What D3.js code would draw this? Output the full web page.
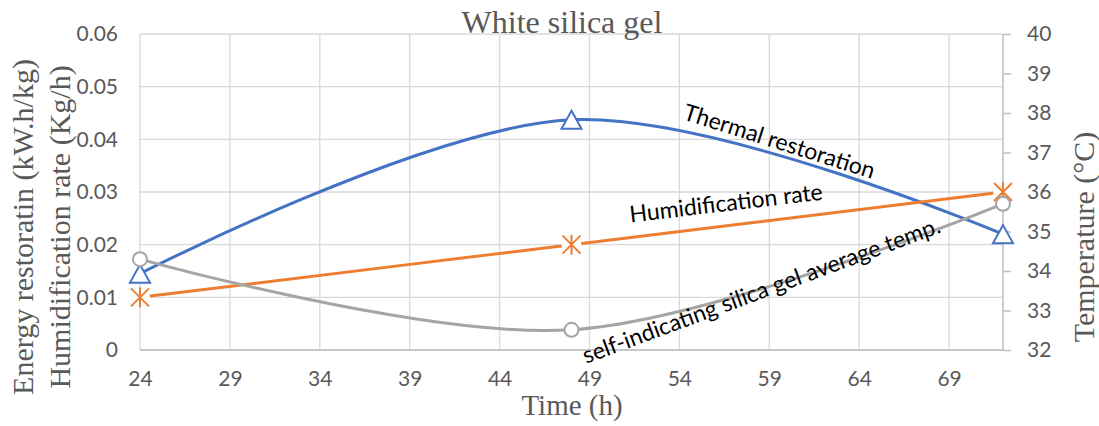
<!DOCTYPE html>
<html><head><meta charset="utf-8">
<script src="https://cdn.jsdelivr.net/npm/d3@7"></script>
<style>body{margin:0;background:#fff}svg{display:block}</style>
</head><body>
<svg id="c" width="1099" height="426"></svg>
<script>
const times = [24, 48, 72];
const thermal = [0.0145, 0.0437, 0.0220];
const humid = [0.010, 0.020, 0.030];
const temp = [34.30, 32.51, 35.70];
const xTicks = [24, 29, 34, 39, 44, 49, 54, 59, 64, 69];
const leftTicks = [0, 0.01, 0.02, 0.03, 0.04, 0.05, 0.06];
const rightTicks = [32, 33, 34, 35, 36, 37, 38, 39, 40];
const title = "White silica gel";
const xTitle = "Time (h)";
const yTitleLines = ["Energy restoratin (kW.h/kg)", "Humidification rate (Kg/h)"];
const y2Title = "Temperature (°C)";

const svg = d3.select("#c");
const L = 140, R = 1003, T = 34, B = 350;
const x = d3.scaleLinear().domain([24, 72]).range([L, R]);
const yL = d3.scaleLinear().domain([0, 0.06]).range([B, T]);
const yR = d3.scaleLinear().domain([32, 40]).range([B, T]);

const grid = "#d9d9d9", axisC = "#bfbfbf", txt = "#595959";
const tickFont = "Lato, 'Open Sans', sans-serif";
const serif = "'Liberation Serif', 'Times New Roman', serif";

// gridlines
svg.append("g").selectAll("line").data(leftTicks).join("line")
  .attr("x1", L).attr("x2", R).attr("y1", d => yL(d)).attr("y2", d => yL(d))
  .attr("stroke", grid).attr("stroke-width", 1.3);
svg.append("g").selectAll("line").data(xTicks).join("line")
  .attr("x1", d => x(d)).attr("x2", d => x(d)).attr("y1", T).attr("y2", B)
  .attr("stroke", grid).attr("stroke-width", 1.3);

// left axis labels
const gl = svg.append("g").attr("transform", `translate(${L},0)`)
  .call(d3.axisLeft(yL).tickValues(leftTicks).tickSize(0).tickPadding(22).tickFormat(d => d === 0 ? "0" : d3.format(".2f")(d)));
gl.select(".domain").remove();
gl.selectAll("text").attr("font-family", tickFont).attr("font-size", 21).attr("fill", txt);

// bottom axis
const gb = svg.append("g").attr("transform", `translate(0,${B})`)
  .call(d3.axisBottom(x).tickValues(xTicks).tickSize(0).tickPadding(21));
gb.select(".domain").attr("stroke", axisC).attr("stroke-width", 1.5).attr("d", `M${L},0H${R}`);
gb.selectAll("text").attr("font-family", tickFont).attr("font-size", 21).attr("fill", txt);

// right axis
const gr = svg.append("g").attr("transform", `translate(${R},0)`)
  .call(d3.axisRight(yR).tickValues(rightTicks).tickSize(8).tickPadding(16));
gr.select(".domain").attr("stroke", axisC).attr("stroke-width", 1.5).attr("d", `M0,${T}V${B}`);
gr.selectAll(".tick line").attr("stroke", axisC).attr("stroke-width", 1.5);
gr.selectAll("text").attr("font-family", tickFont).attr("font-size", 21).attr("fill", txt);

// lines
const curve = d3.curveCardinal.tension(0);
function drawLine(vals, yS, color, cv) {
  const line = d3.line().x((d, i) => x(times[i])).y(d => yS(d)).curve(cv);
  svg.append("path").datum(vals).attr("d", line).attr("fill", "none")
    .attr("stroke", color).attr("stroke-width", 3).attr("stroke-linecap", "round");
}
drawLine(thermal, yL, "#4472C4", curve);
drawLine(humid, yL, "#ED7D31", curve);
drawLine(temp, yR, "#A5A5A5", curve);

// markers
svg.append("g").selectAll("path").data(thermal).join("path")
  .attr("transform", (d, i) => `translate(${x(times[i])},${yL(d)})`)
  .attr("d", "M0,-9L10,9L-10,9Z").attr("fill", "#fff").attr("stroke", "#4472C4").attr("stroke-width", 2);
const ast = svg.append("g").selectAll("g").data(humid).join("g")
  .attr("transform", (d, i) => `translate(${x(times[i])},${yL(d)})`);
ast.append("circle").attr("r", 10).attr("fill", "#fff");
ast.append("path").attr("d", "M-9,-9L9,9M-9,9L9,-9M0,-10V10")
  .attr("stroke", "#ED7D31").attr("stroke-width", 2).attr("fill", "none");
svg.append("g").selectAll("circle").data(temp).join("circle")
  .attr("cx", (d, i) => x(times[i])).attr("cy", d => yR(d)).attr("r", 7)
  .attr("fill", "#fff").attr("stroke", "#A5A5A5").attr("stroke-width", 2);

// annotations
const annFont = "Lato, 'Open Sans', sans-serif";
function ann(t, cx, cy, ang, size) {
  svg.append("text").attr("transform", `translate(${cx},${cy}) rotate(${ang})`)
    .attr("text-anchor", "middle").attr("font-family", annFont).attr("font-size", size)
    .attr("fill", "#000").text(t);
}
ann("Thermal restoration", 777, 149, 17.5, 23);
ann("Humidification rate", 727, 211, -6.8, 23);
ann("self-indicating silica gel average temp.", 764, 298, -20.3, 23);

// titles
svg.append("text").attr("x", 562).attr("y", 33).attr("text-anchor", "middle")
  .attr("font-family", serif).attr("font-size", 32).attr("fill", txt).text(title);
svg.append("text").attr("x", 572).attr("y", 415).attr("text-anchor", "middle")
  .attr("font-family", serif).attr("font-size", 29).attr("fill", txt).text(xTitle);
yTitleLines.forEach((t, i) => {
  svg.append("text").attr("transform", `translate(${33 + i * 37},227) rotate(-90)`)
    .attr("text-anchor", "middle").attr("font-family", serif).attr("font-size", 30)
    .attr("fill", txt).text(t);
});
svg.append("text").attr("transform", `translate(1094,237) rotate(-90)`)
  .attr("text-anchor", "middle").attr("font-family", serif).attr("font-size", 30)
  .attr("fill", txt).text(y2Title);
</script>
</body></html>
